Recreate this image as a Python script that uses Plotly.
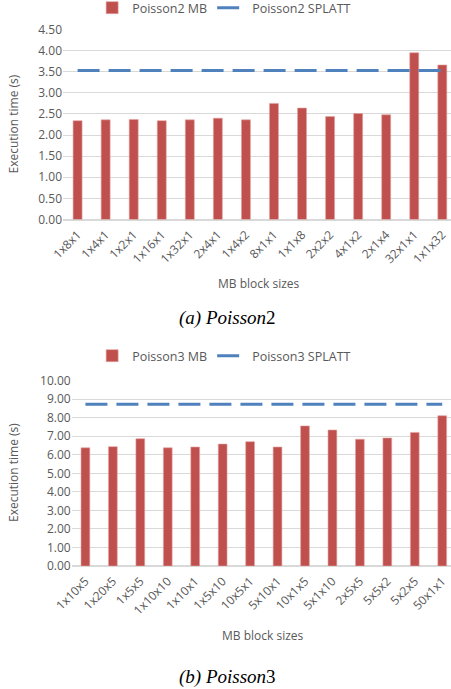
import plotly.graph_objects as go

# Poisson2: execution time per MB block size, with the SPLATT baseline
p2_blocks = ["1x8x1", "1x4x1", "1x2x1", "1x16x1", "1x32x1", "2x4x1", "1x4x2",
             "8x1x1", "1x1x8", "2x2x2", "4x1x2", "2x1x4", "32x1x1", "1x1x32"]
p2_mb = [2.34, 2.36, 2.37, 2.34, 2.36, 2.40, 2.36, 2.75, 2.64, 2.44, 2.51, 2.48, 3.95, 3.66]
p2_splatt = 3.53

# Poisson3: execution time per MB block size, with the SPLATT baseline
p3_blocks = ["1x10x5", "1x20x5", "1x5x5", "1x10x10", "1x10x1", "1x5x10", "10x5x1",
             "5x10x1", "10x1x5", "5x1x10", "2x5x5", "5x5x2", "5x2x5", "50x1x1"]
p3_mb = [6.38, 6.44, 6.87, 6.38, 6.42, 6.58, 6.71, 6.42, 7.56, 7.34, 6.84, 6.91, 7.21, 8.11]
p3_splatt = 8.73

p2_ticks = [0, 0.5, 1.0, 1.5, 2.0, 2.5, 3.0, 3.5, 4.0, 4.5]
p3_ticks = list(range(0, 11))

W, H = 451, 689
BAR = "#C0504D"
LINE = "#4F81BD"
GRID = "#D9D9D9"
TXT = "#595959"
FONT = "Open Sans"

fig = go.Figure()

fig.add_trace(go.Bar(x=p2_blocks, y=p2_mb, name="Poisson2 MB", marker_color=BAR,
                     marker_line=dict(color="#E3A3A1", width=0.6),
                     xaxis="x", yaxis="y", legend="legend"))
fig.add_trace(go.Scatter(x=p2_blocks, y=[p2_splatt] * len(p2_blocks), name="Poisson2 SPLATT",
                         mode="lines", line=dict(color=LINE, width=3, dash="22px,9px"),
                         xaxis="x", yaxis="y", legend="legend"))
fig.add_trace(go.Bar(x=p3_blocks, y=p3_mb, name="Poisson3 MB", marker_color=BAR,
                     marker_line=dict(color="#E3A3A1", width=0.6),
                     xaxis="x2", yaxis="y2", legend="legend2"))
fig.add_trace(go.Scatter(x=p3_blocks, y=[p3_splatt] * len(p3_blocks), name="Poisson3 SPLATT",
                         mode="lines", line=dict(color=LINE, width=3, dash="22px,9px"),
                         xaxis="x2", yaxis="y2", legend="legend2"))

def py(px):
    return 1 - px / H

def px_(x):
    return x / W

axis_font = dict(family=FONT, size=12, color=TXT)
title_font = dict(family=FONT, size=12, color=TXT)
legend_font = dict(family=FONT, size=12.5, color=TXT)

xcommon = dict(tickangle=-45, automargin=False, tickfont=axis_font, showgrid=False,
               showline=False, zeroline=False, ticks="", ticklabelstandoff=5)
ycommon = dict(automargin=False, tickformat=".2f", tickfont=axis_font, gridcolor=GRID,
               gridwidth=1, zeroline=True, zerolinecolor=GRID, showline=False, ticks="")

fig.update_layout(
    width=W, height=H,
    margin=dict(l=0, r=0, t=0, b=0, autoexpand=False),
    paper_bgcolor="white", plot_bgcolor="white",
    bargap=0.68,
    font=dict(family=FONT, color=TXT),
    xaxis=dict(domain=[px_(63), 1], range=[-0.52, 13.31], anchor="y", **xcommon),
    yaxis=dict(domain=[py(219.5), py(29.5)], range=[0, 4.5], tickvals=p2_ticks,
               anchor="x", **ycommon),
    xaxis2=dict(domain=[px_(71.7), 1], range=[-0.5, 13.32], anchor="y2", **xcommon),
    yaxis2=dict(domain=[py(566), py(380.7)], range=[0, 10], tickvals=p3_ticks,
                anchor="x2", **ycommon),
    legend=dict(orientation="h", x=0.497, xanchor="center", y=py(8), yanchor="middle",
                font=legend_font, bgcolor="rgba(0,0,0,0)", itemwidth=30, tracegroupgap=0),
    legend2=dict(orientation="h", x=0.497, xanchor="center", y=py(356), yanchor="middle",
                 font=legend_font, bgcolor="rgba(0,0,0,0)", itemwidth=30, tracegroupgap=0),
)

# Axis titles
for (xt, yt, ymid) in [(259, 283, 124.5), (263, 635, 473)]:
    fig.add_annotation(text="MB block sizes", x=px_(xt), y=py(yt), xref="paper", yref="paper",
                       showarrow=False, xanchor="center", yanchor="middle", font=title_font)
    fig.add_annotation(text="Execution time (s)", x=px_(13), y=py(ymid), xref="paper",
                       yref="paper", showarrow=False, textangle=-90, xanchor="center",
                       yanchor="middle", font=title_font)

# Subfigure captions
fig.add_annotation(text="<i>(a) Poisson</i>2", x=px_(228), y=py(318), xref="paper", yref="paper",
                   showarrow=False, xanchor="center", yanchor="middle",
                   font=dict(family="Liberation Serif", size=19, color="black"))
fig.add_annotation(text="<i>(b) Poisson</i>3", x=px_(228), y=py(677), xref="paper", yref="paper",
                   showarrow=False, xanchor="center", yanchor="middle",
                   font=dict(family="Liberation Serif", size=19, color="black"))

fig.write_html("out.html")
